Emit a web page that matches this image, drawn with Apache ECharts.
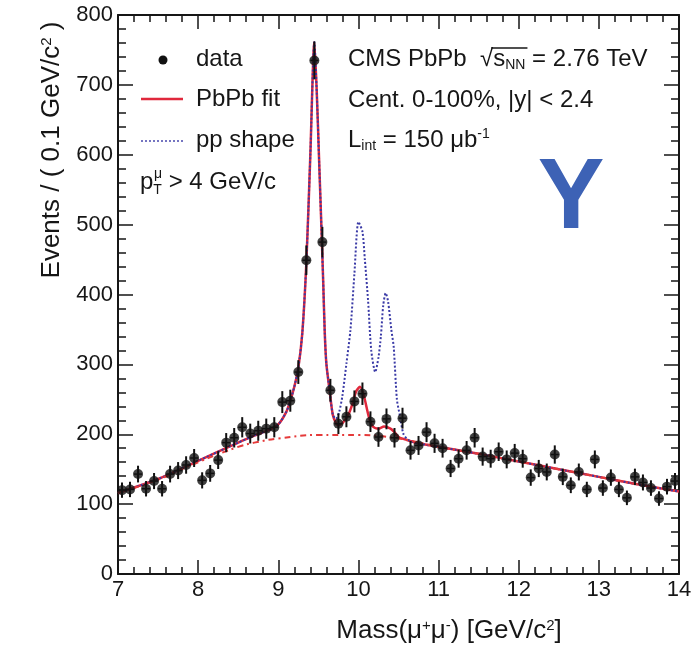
<!DOCTYPE html>
<html>
<head>
<meta charset="utf-8">
<script src="https://cdn.jsdelivr.net/npm/echarts@6/dist/echarts.min.js"></script>
<style>
  html, body { margin: 0; padding: 0; background: #ffffff; }
  #chart { width: 698px; height: 651px; }
</style>
</head>
<body>
<div id="chart"></div>
<script>
// Dimuon invariant-mass spectrum, 0.1 GeV/c^2 bins
const massBins = [
  7.05, 7.15, 7.25, 7.35, 7.45, 7.55, 7.65, 7.75, 7.85, 7.95,
  8.05, 8.15, 8.25, 8.35, 8.45, 8.55, 8.65, 8.75, 8.85, 8.95,
  9.05, 9.15, 9.25, 9.35, 9.45, 9.55, 9.65, 9.75, 9.85, 9.95,
  10.05, 10.15, 10.25, 10.35, 10.45, 10.55, 10.65, 10.75, 10.85, 10.95,
  11.05, 11.15, 11.25, 11.35, 11.45, 11.55, 11.65, 11.75, 11.85, 11.95,
  12.05, 12.15, 12.25, 12.35, 12.45, 12.55, 12.65, 12.75, 12.85, 12.95,
  13.05, 13.15, 13.25, 13.35, 13.45, 13.55, 13.65, 13.75, 13.85, 13.95
];
const events = [
  120, 121, 143, 122, 133, 122, 143, 148, 156, 166,
  134, 144, 163, 188, 195, 210, 201, 205, 208, 210,
  246, 248, 289, 449, 735, 475, 263, 215, 225, 247,
  258, 218, 196, 222, 195, 223, 177, 184, 203, 187,
  180, 151, 165, 177, 195, 168, 165, 175, 164, 173,
  165, 138, 151, 146, 171, 139, 127, 146, 121, 164,
  123, 138, 121, 109, 139, 131, 123, 108, 125, 133
];

// PbPb fit (signal + background)
const fitMass = [
  7.0, 7.5, 8.0, 8.5, 8.7, 8.9, 9.0, 9.1, 9.15, 9.2, 9.25, 9.3, 9.35, 9.4, 9.45,
  9.48, 9.51, 9.54, 9.56, 9.58, 9.6, 9.64, 9.68, 9.72, 9.75, 9.8, 9.87, 9.93, 9.97,
  10.02, 10.07, 10.13, 10.18, 10.25, 10.32, 10.4, 10.45, 10.5, 10.6, 10.75, 11.0,
  11.5, 12.0, 12.5, 13.0, 13.5, 14.0
];
const fitEvents = [
  116, 136, 162, 188, 198, 207, 214, 232, 248, 268, 295, 345, 445, 600, 761,
  690, 590, 490, 420, 345, 301, 263, 228, 216, 213, 216, 227, 245, 261,
  268, 254, 225, 211, 208, 211, 208, 203, 196, 192, 187, 182,
  172, 161, 150, 139, 128, 118
];

// pp line shape scaled to the PbPb Y(1S) yield
const ppMass = [
  7.0, 7.5, 8.0, 8.5, 8.7, 8.9, 9.0, 9.1, 9.15, 9.2, 9.25, 9.3, 9.35, 9.4, 9.45,
  9.48, 9.51, 9.54, 9.56, 9.58, 9.6, 9.64, 9.68, 9.72, 9.76, 9.8, 9.85, 9.9, 9.95,
  10.0, 10.05, 10.08, 10.12, 10.16, 10.21, 10.25, 10.28, 10.31, 10.34, 10.37, 10.41,
  10.44, 10.48, 10.52, 10.56, 10.62, 10.75, 11.0, 11.5, 12.0, 12.5, 13.0, 13.5, 14.0
];
const ppEvents = [
  116, 136, 162, 188, 198, 207, 214, 232, 248, 268, 295, 345, 445, 600, 761,
  690, 590, 490, 420, 345, 301, 263, 228, 222, 232, 255, 301, 349, 430,
  504, 490, 450, 392, 320, 289, 310, 340, 385, 402, 390, 350,
  325, 250, 225, 201, 192, 187, 182, 172, 161, 150, 139, 128, 118
];

// Background component of the fit
const bkgMass = [7.0, 7.5, 8.0, 8.5, 8.7, 9.0, 9.5, 10.0, 10.5, 11.0, 11.5, 12.0, 12.5, 13.0, 13.5, 14.0];
const bkgEvents = [116, 135, 160, 182, 188, 194, 199, 199, 194, 182, 172, 161, 150, 139, 128, 118];

const FONT = '"Liberation Sans", Arial, Helvetica, sans-serif';
const INK = '#161616';
const FIT_RED = '#e0283c';
const PP_BLUE = '#3a3aa6';
const BKG_RED = '#e53a3a';
const UPS_BLUE = '#3d62b5';
const TXT = 24;
const TICK = 22;

const pairs = (xs, ys) => xs.map((x, i) => [x, ys[i]]);
const dataPts = massBins.map((m, i) => [m, events[i], Math.sqrt(events[i])]);

const chart = echarts.init(document.getElementById('chart'), null, { renderer: 'canvas' });

const axisCommon = {
  type: 'value',
  axisLine: { show: true, onZero: false, lineStyle: { color: INK, width: 2 } },
  axisTick: { show: true, inside: true, lineStyle: { color: INK, width: 1.5 } },
  minorTick: { show: true, splitNumber: 5, lineStyle: { color: INK, width: 1.5 } },
  splitLine: { show: false },
  minorSplitLine: { show: false }
};

function xAxisDef(pos, labels) {
  return Object.assign({}, axisCommon, {
    position: pos, min: 7, max: 14, interval: 1,
    axisTick: Object.assign({}, axisCommon.axisTick, { length: 14 }),
    minorTick: Object.assign({}, axisCommon.minorTick, { length: 7 }),
    axisLabel: { show: labels, color: INK, fontSize: TICK, fontFamily: FONT, margin: 5 }
  });
}
function yAxisDef(pos, labels) {
  return Object.assign({}, axisCommon, {
    position: pos, min: 0, max: 800, interval: 100,
    axisTick: Object.assign({}, axisCommon.axisTick, { length: 15 }),
    minorTick: Object.assign({}, axisCommon.minorTick, { length: 8 }),
    axisLabel: { show: labels, color: INK, fontSize: TICK, fontFamily: FONT, margin: 5 }
  });
}

const textBase = { fontFamily: FONT, fill: INK };
function txt(x, y, text, rich, extra) {
  return {
    type: 'text', z: 100,
    style: Object.assign({
      x: x, y: y, text: text, rich: rich,
      align: 'left', verticalAlign: 'middle',
      fontFamily: FONT, fontSize: TXT, fill: INK
    }, extra || {})
  };
}
const R = {
  n: Object.assign({ fontSize: TXT, lineHeight: 30, verticalAlign: 'middle' }, textBase),
  sub: Object.assign({ fontSize: 14, lineHeight: 30, verticalAlign: 'bottom', padding: [0, 0, 2, 0] }, textBase),
  sup: Object.assign({ fontSize: 14, lineHeight: 30, verticalAlign: 'top', padding: [2, 0, 0, 0] }, textBase)
};

// width helper for placing the radical's overline
const measureCtx = document.createElement('canvas').getContext('2d');
function textWidth(s, size) { measureCtx.font = size + 'px ' + FONT; return measureCtx.measureText(s).width; }
const cmsX = 348;
const rootStart = cmsX + textWidth('CMS PbPb  √', TXT) - 2;
const rootLen = textWidth('s', TXT) + textWidth('NN', 14) + 4;

const TITLE = 26;

const option = {
  animation: false,
  backgroundColor: '#ffffff',
  grid: { left: 118, right: 19, top: 15, bottom: 77, containLabel: false },
  xAxis: [xAxisDef('bottom', true), xAxisDef('top', false)],
  yAxis: [yAxisDef('left', true), yAxisDef('right', false)],
  series: [
    {
      name: 'PbPb fit', type: 'line', data: pairs(fitMass, fitEvents),
      showSymbol: false, smooth: 0.25, z: 3,
      lineStyle: { color: FIT_RED, width: 2.5 }
    },
    {
      name: 'pp shape', type: 'line', data: pairs(ppMass, ppEvents),
      showSymbol: false, smooth: 0.25, z: 4,
      lineStyle: { color: PP_BLUE, width: 2, type: [2, 2] }
    },
    {
      name: 'background', type: 'line', data: pairs(bkgMass, bkgEvents),
      showSymbol: false, smooth: 0.4, z: 5,
      lineStyle: { color: BKG_RED, width: 2, type: [6, 4, 2, 4] }
    },
    {
      name: 'errors', type: 'custom', z: 6,
      data: dataPts,
      renderItem: function (params, api) {
        const m = api.value(0), v = api.value(1), e = api.value(2);
        const top = api.coord([m, v + e]);
        const bot = api.coord([m, v - e]);
        const l = api.coord([m - 0.05, v]);
        const r = api.coord([m + 0.05, v]);
        return {
          type: 'group',
          children: [
            { type: 'line', shape: { x1: top[0], y1: top[1], x2: bot[0], y2: bot[1] }, style: { stroke: '#111', lineWidth: 2 } },
            { type: 'line', shape: { x1: l[0], y1: l[1], x2: r[0], y2: r[1] }, style: { stroke: '#111', lineWidth: 1.5 } }
          ]
        };
      }
    },
    {
      name: 'data', type: 'scatter', z: 7,
      data: dataPts.map(d => [d[0], d[1]]),
      symbol: 'circle', symbolSize: 10,
      itemStyle: { color: '#111' }
    }
  ],
  graphic: [
    // legend markers
    { type: 'circle', z: 100, shape: { cx: 163, cy: 60, r: 4.5 }, style: { fill: '#111' } },
    { type: 'line', z: 100, shape: { x1: 141, y1: 99, x2: 183, y2: 99 }, style: { stroke: FIT_RED, lineWidth: 2.5 } },
    { type: 'line', z: 100, shape: { x1: 141, y1: 141, x2: 183, y2: 141 }, style: { stroke: PP_BLUE, lineWidth: 2, lineDash: [2, 2], opacity: 0.7 } },
    txt(196, 59, '{n|data}', R),
    txt(196, 99, '{n|PbPb fit}', R),
    txt(196, 140, '{n|pp shape}', R),
    txt(140, 182, '{n|p}{sub|T}{sup|μ}{n| > 4 GeV/c}', {
      n: R.n,
      sub: Object.assign({}, R.sub, { padding: [0, 0, 0, 0] }),
      sup: Object.assign({}, R.sup, { padding: [0, 0, 0, -8] })
    }),
    // collision system and selection
    txt(cmsX, 59, '{n|CMS PbPb  √}{n|s}{sub|NN}{n| = 2.76 TeV}', R),
    { type: 'line', z: 100, shape: { x1: rootStart, y1: 48, x2: rootStart + rootLen, y2: 48 }, style: { stroke: INK, lineWidth: 1.3 } },
    txt(cmsX, 100, '{n|Cent. 0-100%, |y| < 2.4}', R),
    txt(cmsX, 140, '{n|L}{sub|int}{n| = 150 μb}{sup|-1}', R),
    // resonance label
    {
      type: 'text', z: 100,
      style: { x: 571, y: 200, text: 'Υ', align: 'center', verticalAlign: 'middle', fontFamily: FONT, fontWeight: 'bold', fontSize: 100, fill: UPS_BLUE }
    },
    // axis titles
    txt(449, 631, '{n|Mass(μ}{sup|+}{n|μ}{sup|-}{n|) [GeV/c}{sup|2}{n|]}', {
      n: Object.assign({}, R.n, { fontSize: TITLE }),
      sup: Object.assign({}, R.sup, { fontSize: 15 })
    }, { align: 'center' }),
    {
      type: 'text', z: 100, rotation: Math.PI / 2, x: 52, y: 150,
      style: {
        x: 0, y: 0, align: 'center', verticalAlign: 'middle',
        text: '{n|Events / ( 0.1 GeV/c}{sup|2}{n| )}',
        rich: { n: Object.assign({}, R.n, { fontSize: TITLE }), sup: Object.assign({}, R.sup, { fontSize: 15 }) },
        fontFamily: FONT, fontSize: TITLE, fill: INK
      }
    }
  ]
};

chart.setOption(option);
</script>
</body>
</html>
